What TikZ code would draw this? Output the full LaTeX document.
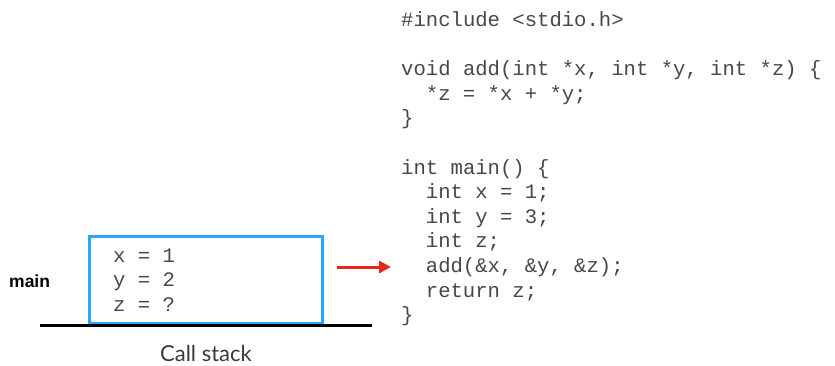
\documentclass[tikz,border=0pt]{standalone}
\usepackage{fontspec}
\newfontfamily\codefont{Liberation Mono}
\newfontfamily\labelfont{Liberation Sans}
\newfontfamily\capfont{Lato}
\usetikzlibrary{arrows.meta}
\definecolor{codegray}{HTML}{474747}
\definecolor{capgray}{HTML}{3A3A3A}
\definecolor{boxblue}{HTML}{2AA7F5}
\definecolor{arrowred}{HTML}{E5281B}
\tikzset{
  codeline/.style={anchor=base west,inner sep=0pt,text=codegray,font=\codefont\fontsize{20.6}{24.6}\selectfont},
  framebox/.style={draw=boxblue,line width=3pt},
}
\begin{document}
\begin{tikzpicture}[x=1pt,y=-1pt]
\useasboundingbox (0,0) rectangle (835,365);
% code
\node[codeline] (c1) at (401,26.5) {\#include <stdio.h>};
\node[codeline] (c3) at (401,75.7) {void add(int *x, int *y, int *z) \{};
\node[codeline] (c4) at (425.7,100.3) {*z = *x + *y;};
\node[codeline] (c5) at (401,124.9) {\}};
\node[codeline] (c7) at (401,174.1) {int main() \{};
\node[codeline] (c8) at (425.7,198.7) {int x = 1;};
\node[codeline] (c9) at (425.7,223.3) {int y = 3;};
\node[codeline] (c10) at (425.7,247.9) {int z;};
\node[codeline] (c11) at (425.7,272.5) {add(\&x, \&y, \&z);};
\node[codeline] (c12) at (425.7,297.1) {return z;};
\node[codeline] (c13) at (401,321.7) {\}};
% stack frame
\node[framebox,minimum width=233pt,minimum height=87pt,inner sep=0pt] (frame) at (205.5,279.5) {};
\node[codeline] (vx) at (113,262) {x = 1};
\node[codeline] (vy) at (113,286.5) {y = 2};
\node[codeline] (vz) at (113,311) {z = ?};
\node[anchor=base west,inner sep=0pt,font=\labelfont\bfseries\fontsize{17.5}{20}\selectfont] (mainlbl) at (9,287) {main};
% ground line
\coordinate (g1) at (40,325.5);
\coordinate (g2) at (372,325.5);
\draw[line width=2.6pt,black] (g1) -- (g2);
\node[anchor=base,inner sep=0pt,text=capgray,font=\capfont\fontsize{22}{26}\selectfont] (cap) at (206,361) {Call stack};
% arrow
\coordinate (a1) at (337,267);
\coordinate (a2) at (391,267);
\draw[arrowred,line width=3pt,-{Triangle[length=12pt,width=12pt]}] (a1) -- (a2);
\end{tikzpicture}
\end{document}
